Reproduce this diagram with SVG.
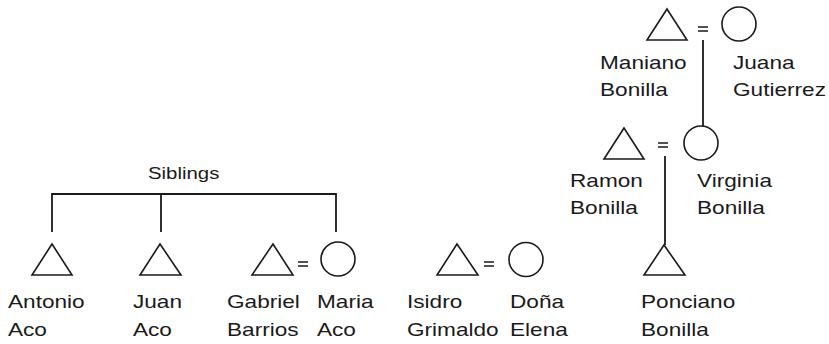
<svg xmlns="http://www.w3.org/2000/svg" width="829" height="344" viewBox="0 0 829 344">
<style>
.bg{fill:#fff}
.s{fill:none;stroke:#1a1a1a;stroke-width:1.6}
.c{fill:none;stroke:#1a1a1a;stroke-width:1.8}
.eq{stroke:#1a1a1a;stroke-width:1.3}
text{font-family:"Liberation Sans",Arial,sans-serif;font-size:19px;fill:#1a1a1a;transform-box:fill-box;transform-origin:0 0;transform:scaleX(1.19)}
text.sm{font-size:17px;transform:scaleX(1.2)}
</style>
<rect class="bg" width="829" height="344"/>
<g id="connectors">
<path class="c" d="M52,232V194H336V232M161,194V232"/>
<path class="c" d="M703,40V126M665,156V245"/>
<text class="sm" x="148" y="179">Siblings</text>
</g>
<g id="antonio"><polygon class="s" points="52,244 32,275 72,275"/><text x="8" y="308">Antonio</text><text x="8" y="336">Aco</text></g>
<g id="juan"><polygon class="s" points="160,244 140,275 181,275"/><text x="133" y="308">Juan</text><text x="133" y="336">Aco</text></g>
<g id="gabriel"><polygon class="s" points="273,244 252,275 293,275"/><text x="227" y="308">Gabriel</text><text x="227" y="336">Barrios</text></g>
<g id="eq1"><path class="eq" d="M298,262H308M298,266H308"/></g>
<g id="maria"><circle class="s" cx="338" cy="259" r="17"/><text x="317" y="308">Maria</text><text x="317" y="336">Aco</text></g>
<g id="isidro"><polygon class="s" points="457,244 437,275 478,275"/><text x="407" y="308">Isidro</text><text x="407" y="336">Grimaldo</text></g>
<g id="eq2"><path class="eq" d="M484,262H494M484,266H494"/></g>
<g id="dona"><circle class="s" cx="526" cy="259.5" r="17"/><text x="510" y="308">Doña</text><text x="510" y="336">Elena</text></g>
<g id="ponciano"><polygon class="s" points="664,245 644,275 685,275"/><text x="641" y="308">Ponciano</text><text x="641" y="336">Bonilla</text></g>
<g id="ramon"><polygon class="s" points="624,128 604,159 644,159"/><text x="570" y="187">Ramon</text><text x="570" y="214">Bonilla</text></g>
<g id="eq3"><path class="eq" d="M658,143H668M658,147H668"/></g>
<g id="virginia"><circle class="s" cx="701" cy="143" r="17"/><text x="697" y="187">Virginia</text><text x="697" y="214">Bonilla</text></g>
<g id="maniano"><polygon class="s" points="667,9 647,40 687,40"/><text x="600" y="69">Maniano</text><text x="600" y="96">Bonilla</text></g>
<g id="eq4"><path class="eq" d="M698,27H708M698,31H708"/></g>
<g id="juana"><circle class="s" cx="739" cy="24" r="17"/><text x="733" y="69">Juana</text><text x="733" y="96">Gutierrez</text></g>
</svg>
